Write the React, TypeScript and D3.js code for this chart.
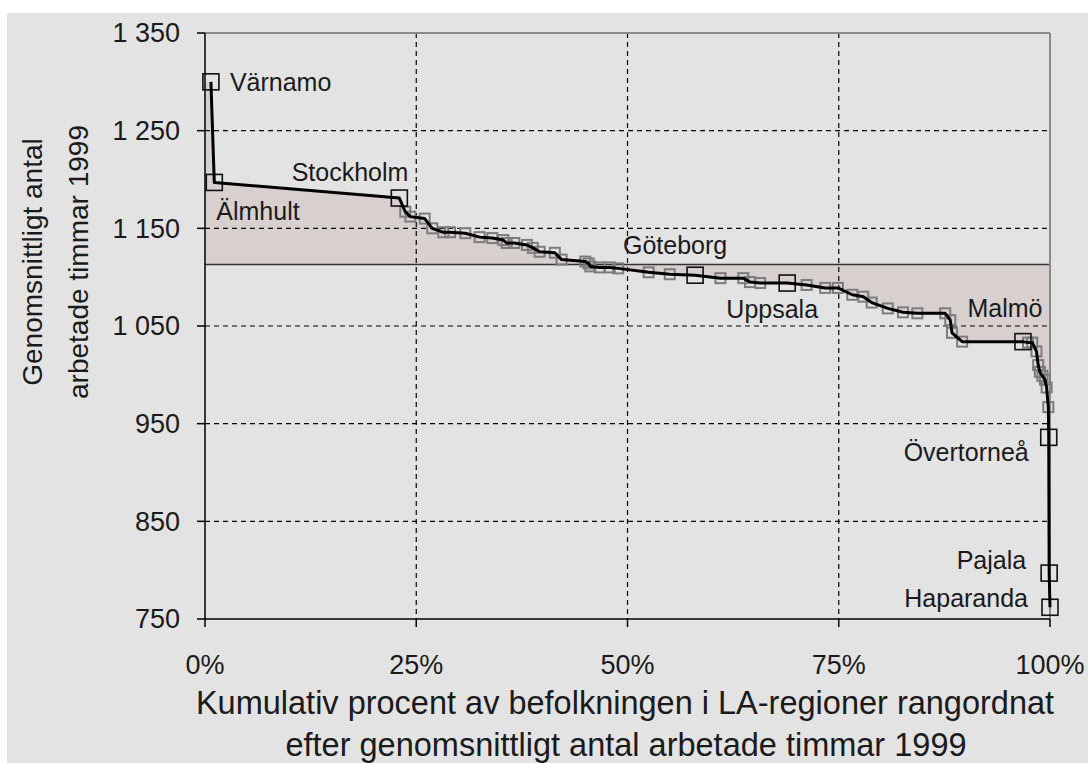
import React from "react";
import * as d3 from "d3";

// ---- data ----
const cumulativePct = [
  0.7, 1.1, 23.0, 23.7, 24.3, 26.0, 26.9, 28.2, 29.0, 30.8,
  32.5, 34.0, 35.3, 35.7, 36.6, 38.1, 38.8, 39.6, 41.4, 42.2,
  45.0, 45.4, 45.6, 46.7, 47.9, 48.9, 52.5, 55.0, 58.0, 61.0,
  63.7, 64.5, 65.7, 68.9, 71.2, 73.4, 74.9, 76.6, 77.9, 78.9,
  80.8, 82.6, 84.3, 87.6, 88.2, 88.4, 89.6, 96.8, 97.4, 97.9,
  98.4, 98.6, 98.8, 99.1, 99.4, 99.6, 99.8, 99.85, 99.9, 100,
];
const avgHours = [
  1300, 1197, 1181, 1167, 1162, 1160, 1150, 1146, 1146, 1145,
  1141, 1140, 1138, 1135, 1135, 1133, 1130, 1126, 1125, 1118,
  1116, 1114, 1111, 1110, 1110, 1109, 1105, 1103, 1102, 1099,
  1099, 1095, 1094, 1094, 1092, 1089, 1089, 1082, 1080, 1074,
  1068, 1064, 1063, 1063, 1056, 1043, 1034, 1034, 1033, 1033,
  1024, 1010, 1003, 999, 995, 987, 967, 936, 797, 762,
];
const labelNames = ["Värnamo", "Älmhult", "Stockholm", "Göteborg", "Uppsala", "Malmö", "Övertorneå", "Pajala", "Haparanda"];
const labelIndex = [0, 1, 2, 28, 33, 47, 57, 58, 59];
const nationalAverage = 1113;
const yTicks = [750, 850, 950, 1050, 1150, 1250, 1350];
const xTicks = [0, 25, 50, 75, 100];
const xTitle = ["Kumulativ procent av befolkningen i LA-regioner rangordnat", "efter genomsnittligt antal arbetade timmar 1999"];
const yTitle = ["Genomsnittligt antal", "arbetade timmar 1999"];

// ---- label placement (style) ----
const labelStyle: { dx: number; dy: number; anchor: string }[] = [
  { dx: 19, dy: 0, anchor: "start" },
  { dx: 2, dy: 29, anchor: "start" },
  { dx: 9, dy: -26, anchor: "end" },
  { dx: -20, dy: -30, anchor: "middle" },
  { dx: -15, dy: 26, anchor: "middle" },
  { dx: -18, dy: -33, anchor: "middle" },
  { dx: -20, dy: 15, anchor: "end" },
  { dx: -23, dy: -13, anchor: "end" },
  { dx: -22, dy: -9, anchor: "end" },
];

const W = 1088;
const H = 763;
const left = 205, right = 1050, top = 33, bottom = 619;
const FONT = "'Liberation Sans', Arial, sans-serif";
const INK = "#1a1a1a";

function fmtY(v: number) {
  const s = String(v);
  return s.length > 3 ? s.slice(0, s.length - 3) + " " + s.slice(-3) : s;
}

export default function App() {
  const x = d3.scaleLinear().domain([0, 100]).range([left, right]);
  const y = d3.scaleLinear().domain([750, 1350]).range([bottom, top]);
  const pts = cumulativePct.map((p, i) => ({ p, v: avgHours[i] }));
  const areaPts = [{ p: 0, v: avgHours[0] }, ...pts];
  const area = d3.area<{ p: number; v: number }>()
    .x((d) => x(d.p)).y0(y(nationalAverage)).y1((d) => y(d.v));
  const line = d3.line<{ p: number; v: number }>().x((d) => x(d.p)).y((d) => y(d.v));
  const labeled = new Set(labelIndex);
  const gs = 10;
  const bs = 16;

  return (
    <svg width={W} height={H} style={{ position: "absolute", left: 0, top: 0 }} fontFamily={FONT}>
      <rect x={0} y={0} width={W} height={H} fill="#ffffff" />
      <rect x={7} y={13} width={W - 7} height={H - 13} fill="#e3e3e3" />

      <path d={area(areaPts) || ""} fill="#d8cfcf" />

      {/* gridlines */}
      {yTicks.filter((t) => t !== 750 && t !== 1350).map((t) => (
        <line key={"gy" + t} x1={left} x2={right} y1={y(t)} y2={y(t)} stroke="#000" strokeWidth={1.2} strokeDasharray="5,4" />
      ))}
      {xTicks.filter((t) => t !== 0 && t !== 100).map((t) => (
        <line key={"gx" + t} x1={x(t)} x2={x(t)} y1={top} y2={bottom} stroke="#000" strokeWidth={1.2} strokeDasharray="5,4" />
      ))}

      {/* average line */}
      <line x1={left} x2={right} y1={y(nationalAverage)} y2={y(nationalAverage)} stroke="#333" strokeWidth={1.5} />

      {/* frame */}
      <line x1={left} x2={right} y1={top} y2={top} stroke="#8a8a8a" strokeWidth={2} />
      <line x1={right} x2={right} y1={top} y2={bottom} stroke="#8a8a8a" strokeWidth={2} />
      <line x1={left} x2={left} y1={top} y2={bottom} stroke="#000" strokeWidth={1.5} />
      <line x1={left} x2={right} y1={bottom} y2={bottom} stroke="#000" strokeWidth={1.5} />

      {/* ticks */}
      {yTicks.map((t) => (
        <g key={"ty" + t}>
          <line x1={left - 8} x2={left} y1={y(t)} y2={y(t)} stroke="#000" strokeWidth={1.5} />
          <text x={180} y={y(t)} dy="0.35em" textAnchor="end" fontSize={27} fill={INK}>{fmtY(t)}</text>
        </g>
      ))}
      {xTicks.map((t) => (
        <g key={"tx" + t}>
          <line x1={x(t)} x2={x(t)} y1={bottom} y2={bottom + 8} stroke="#000" strokeWidth={1.5} />
          <text x={x(t)} y={665} dy="0.35em" textAnchor="middle" fontSize={27} fill={INK}>{t + "%"}</text>
        </g>
      ))}

      {/* markers */}
      {pts.map((d, i) => labeled.has(i) ? null : (
        <rect key={"m" + i} x={x(d.p) - gs / 2} y={y(d.v) - gs / 2} width={gs} height={gs} fill="none" stroke="#7c7c7c" strokeWidth={2} />
      ))}
      {pts.map((d, i) => !labeled.has(i) ? null : (
        <rect key={"b" + i} x={x(d.p) - bs / 2} y={y(d.v) - bs / 2} width={bs} height={bs} fill="none" stroke="#111" strokeWidth={1.6} />
      ))}

      {/* line */}
      <path d={line(pts) || ""} fill="none" stroke="#000" strokeWidth={3} strokeLinejoin="round" />

      {/* labels */}
      {labelIndex.map((idx, k) => (
        <text key={"l" + k} x={x(pts[idx].p) + labelStyle[k].dx} y={y(pts[idx].v) + labelStyle[k].dy} dy="0.35em"
          textAnchor={labelStyle[k].anchor as any} fontSize={25} fill={INK}>{labelNames[k]}</text>
      ))}

      {/* axis titles */}
      <text x={625} y={703} dy="0.35em" textAnchor="middle" fontSize={32.5} fill={INK}>{xTitle[0]}</text>
      <text x={626} y={745} dy="0.35em" textAnchor="middle" fontSize={32.5} fill={INK}>{xTitle[1]}</text>
      <g transform="translate(0,262)">
        <text transform="translate(42,0) rotate(-90)" textAnchor="middle" fontSize={28} fill={INK}>{yTitle[0]}</text>
        <text transform="translate(88,0) rotate(-90)" textAnchor="middle" fontSize={28} fill={INK}>{yTitle[1]}</text>
      </g>
    </svg>
  );
}
